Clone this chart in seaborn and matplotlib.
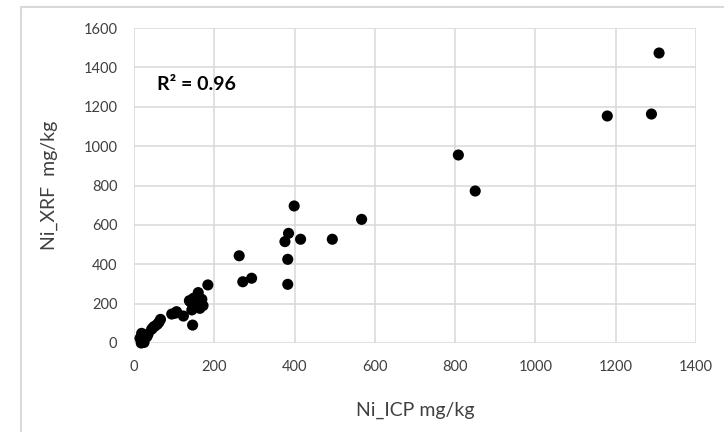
import matplotlib
matplotlib.use("Agg")
import matplotlib.pyplot as plt
from matplotlib.patches import Rectangle
import seaborn as sns
import pandas as pd

# Ni concentrations: ICP reference vs. portable XRF (mg/kg)
ni_icp = [1308, 1289, 1179, 808, 850, 567, 399, 385, 376, 415, 494, 383, 383,
          262, 271, 293, 184, 160, 148, 169, 140, 164, 144, 146, 106, 94, 123,
          102, 66, 52, 44, 58, 48, 32, 19, 15, 23, 20, 27, 18, 25, 35, 62,
          155, 138, 172]
ni_xrf = [1473, 1163, 1153, 955, 772, 628, 696, 557, 515, 527, 527, 425, 298,
          443, 311, 329, 295, 256, 227, 222, 210, 176, 168, 91, 159, 147, 137,
          151, 120, 86, 70, 95, 80, 32, 49, 24, 7, 12, 40, 0, 3, 45, 105,
          200, 215, 190]
x_ticks = [0, 200, 400, 600, 800, 1000, 1200, 1400]
y_ticks = [0, 200, 400, 600, 800, 1000, 1200, 1400, 1600]
r2_label = "R² = 0.96"
x_title = "Ni_ICP mg/kg"
y_title = "Ni_XRF  mg/kg"

df = pd.DataFrame({"icp": ni_icp, "xrf": ni_xrf})

sns.set_theme(style="white")
plt.rcParams["font.family"] = ["Lato", "DejaVu Sans"]

W, H = 724, 432
fig = plt.figure(figsize=(W / 100, H / 100), dpi=100)
ax = fig.add_axes([134 / W, 1 - 343 / H, (696 - 134) / W, (343 - 28) / H])

sns.scatterplot(data=df, x="icp", y="xrf", ax=ax, color="black", s=64,
                edgecolor="none", zorder=3, clip_on=False)

ax.set_xlim(0, 1400)
ax.set_ylim(0, 1600)
ax.set_xticks(x_ticks)
ax.set_yticks(y_ticks)
ax.grid(True, color="#d9d9d9", linewidth=1.1)
ax.set_axisbelow(True)
for s in ax.spines.values():
    s.set_visible(False)
ax.tick_params(axis="both", length=0, labelsize=10.5, labelcolor="#404040")
ax.tick_params(axis="x", pad=12)
ax.tick_params(axis="y", pad=12)

ax.set_xlabel(x_title, fontsize=14, color="#404040", labelpad=20)
ax.set_ylabel(y_title, fontsize=14, color="#404040", labelpad=18)

ax.text(0.041, 0.82, r2_label, transform=ax.transAxes, fontsize=14,
        fontweight="bold", color="black", va="center", ha="left")

# Chart-area frame running off the right and bottom edges
fig.add_artist(Rectangle((21 / W, -0.1), 1.1, (1 - 7 / H) + 0.1,
                         transform=fig.transFigure, fill=False,
                         edgecolor="#d9d9d9", linewidth=1.5))

fig.savefig("out.png", dpi=100, facecolor="white")
